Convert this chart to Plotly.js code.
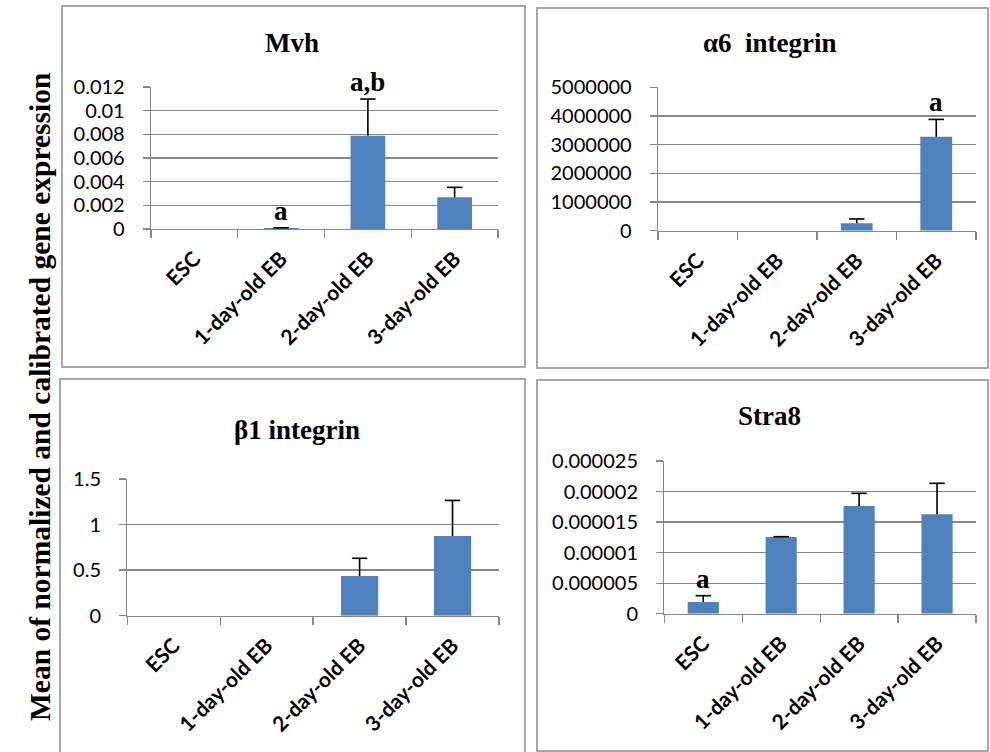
<!DOCTYPE html>
<html>
<head>
<meta charset="utf-8">
<script src="https://cdn.plot.ly/plotly-3.0.1.min.js"></script>
<style>html,body{margin:0;padding:0;background:#fff;}#chart{width:990px;height:752px;}</style>
</head>
<body>
<div id="chart"></div>
<script>
// ---- data ----
const categories = ["ESC", "1-day-old EB", "2-day-old EB", "3-day-old EB"];

const mvhValues = [0, 0.00008, 0.00788, 0.00268];
const mvhErrors = [0, 0.00002, 0.0031, 0.00084];
const mvhLetters = ["", "a", "a,b", ""];
const mvhTicks = [0, 0.002, 0.004, 0.006, 0.008, 0.01, 0.012];
const mvhTickText = ["0", "0.002", "0.004", "0.006", "0.008", "0.01", "0.012"];

const a6Values = [0, 0, 260000, 3280000];
const a6Errors = [0, 0, 150000, 600000];
const a6Letters = ["", "", "", "a"];
const a6Ticks = [0, 1000000, 2000000, 3000000, 4000000, 5000000];
const a6TickText = ["0", "1000000", "2000000", "3000000", "4000000", "5000000"];

const b1Values = [0, 0, 0.436, 0.875];
const b1Errors = [0, 0, 0.194, 0.39];
const b1Letters = ["", "", "", ""];
const b1Ticks = [0, 0.5, 1, 1.5];
const b1TickText = ["0", "0.5", "1", "1.5"];

const stra8Values = [0.0000019, 0.00001256, 0.00001763, 0.00001627];
const stra8Errors = [0.00000105, 0.00000005, 0.00000208, 0.00000508];
const stra8Letters = ["a", "", "", ""];
const stra8Ticks = [0, 0.000005, 0.00001, 0.000015, 0.00002, 0.000025];
const stra8TickText = ["0", "0.000005", "0.00001", "0.000015", "0.00002", "0.000025"];

const panelTitles = ["Mvh", "\u03b16\u00a0 integrin", "\u03b21 integrin", "Stra8"];
const yAxisLabel = "Mean of normalized and calibrated gene expression";

// ---- layout helpers (pixel -> paper) ----
const W = 990, H = 752;
const px = v => v / W;
const py = v => 1 - v / H;

const BAR = "#4F81BD";
const GRID = "#878787";
const SERIF = "Liberation Serif, Times New Roman, serif";
const SANS = "Lato, Open Sans, sans-serif";

const panels = [
  {vals: mvhValues, errs: mvhErrors, letters: mvhLetters, ticks: mvhTicks, tt: mvhTickText,
   x: [151, 498], y: [87, 229], title: panelTitles[0], tpos: [292, 43]},
  {vals: a6Values, errs: a6Errors, letters: a6Letters, ticks: a6Ticks, tt: a6TickText,
   x: [658, 976], y: [87.3, 230.7], title: panelTitles[1], tpos: [770, 43]},
  {vals: b1Values, errs: b1Errors, letters: b1Letters, ticks: b1Ticks, tt: b1TickText,
   x: [127.3, 499], y: [479, 615.7], title: panelTitles[2], tpos: [297, 430]},
  {vals: stra8Values, errs: stra8Errors, letters: stra8Letters, ticks: stra8Ticks, tt: stra8TickText,
   x: [664.3, 976], y: [461, 613.7], title: panelTitles[3], tpos: [769, 416]}
];

const traces = [];
const layout = {
  width: W, height: H, autosize: false,
  margin: {l: 0, r: 0, t: 0, b: 0, pad: 0},
  paper_bgcolor: "#fff", plot_bgcolor: "rgba(0,0,0,0)",
  showlegend: false,
  bargap: 0.6,
  annotations: [], shapes: []
};

panels.forEach((p, i) => {
  const n = i + 1;
  const xa = "x" + (n === 1 ? "" : n), ya = "y" + (n === 1 ? "" : n);
  const xkey = "xaxis" + (n === 1 ? "" : n), ykey = "yaxis" + (n === 1 ? "" : n);
  traces.push({
    type: "bar", x: categories, y: p.vals, xaxis: xa, yaxis: ya,
    marker: {color: BAR, line: {width: 0}},
    error_y: {type: "data", array: p.errs, symmetric: false, arrayminus: p.vals.map(() => 0),
              width: 0, thickness: 1.6, color: "#000"},
    hoverinfo: "skip"
  });
  traces.push({
    type: "scatter", mode: "markers", x: categories,
    y: p.vals.map((v, k) => p.errs[k] > 0 ? v + p.errs[k] : null),
    xaxis: xa, yaxis: ya,
    marker: {symbol: "line-ew-open", size: 11, color: "#000", line: {color: "#000", width: 1.6}},
    hoverinfo: "skip", cliponaxis: false
  });
  const top = p.ticks[p.ticks.length - 1];
  layout[xkey] = {
    domain: [px(p.x[0]), px(p.x[1])], anchor: ya,
    type: "category", showgrid: false, showline: true, linecolor: GRID, linewidth: 1.3,
    ticks: "outside", tickson: "boundaries", ticklen: 8, tickcolor: GRID, tickwidth: 1.3,
    tickangle: -45, tickfont: {family: SANS, size: 21, weight: "bold", color: "#000"},
    ticklabelstandoff: 8, fixedrange: true
  };
  layout[ykey] = {
    domain: [py(p.y[1]), py(p.y[0])], anchor: xa,
    range: [0, top * 1.00001], tickmode: "array", tickvals: p.ticks, ticktext: p.tt,
    showgrid: true, gridcolor: GRID, gridwidth: 1.3, zeroline: false,
    showline: true, linecolor: GRID, linewidth: 1.3,
    ticks: "outside", ticklen: 7, tickcolor: GRID, tickwidth: 1.3,
    tickfont: {family: SANS, size: 20, color: "#000"}, ticklabelstandoff: 14, fixedrange: true
  };
  layout.annotations.push({
    xref: "paper", yref: "paper", x: px(p.tpos[0]), y: py(p.tpos[1]),
    xanchor: "center", yanchor: "middle", showarrow: false, text: "<b>" + p.title + "</b>",
    font: {family: SERIF, size: 27, color: "#000"}
  });
  p.letters.forEach((L, k) => {
    if (!L) return;
    layout.annotations.push({
      xref: xa, yref: ya, x: categories[k], y: p.vals[k] + p.errs[k],
      xanchor: "center", yanchor: "bottom", yshift: 0, showarrow: false, text: "<b>" + L + "</b>",
      font: {family: SERIF, size: 27, color: "#000"}
    });
  });
});

layout.annotations.push({
  xref: "paper", yref: "paper", x: px(40), y: py(397), xanchor: "center", yanchor: "middle",
  showarrow: false, textangle: -90, text: "<b>" + yAxisLabel + "</b>",
  font: {family: SERIF, size: 29.5, color: "#000"}
});

// panel frames
const frames = [[62, 6, 525, 367], [537, 8, 988, 368], [60, 379, 525, 770], [537, 380, 988, 751]];
frames.forEach(f => layout.shapes.push({
  type: "rect", xref: "paper", yref: "paper",
  x0: px(f[0]), x1: px(f[2]), y0: py(f[3]), y1: py(f[1]),
  line: {color: "#8c8c8c", width: 1.5}, fillcolor: "rgba(0,0,0,0)", layer: "below"
}));

Plotly.newPlot("chart", traces, layout, {displayModeBar: false, staticPlot: true});
</script>
</body>
</html>
